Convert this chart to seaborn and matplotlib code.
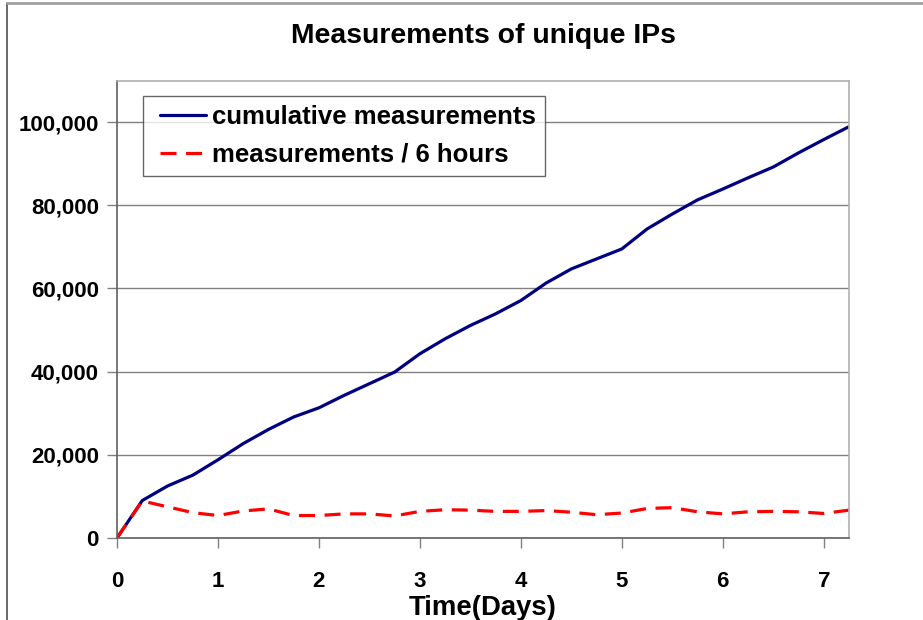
import matplotlib
matplotlib.use("Agg")
import matplotlib.pyplot as plt
import seaborn as sns
import pandas as pd
import numpy as np
from matplotlib.lines import Line2D

days = [0, 0.25, 0.5, 0.75, 1.0, 1.25, 1.5, 1.75, 2.0, 2.25, 2.5, 2.75, 3.0, 3.25, 3.5,
        3.75, 4.0, 4.25, 4.5, 4.75, 5.0, 5.25, 5.5, 5.75, 6.0, 6.25, 6.5, 6.75, 7.0, 7.25]
cumulative = [0, 9000, 12500, 15100, 18800, 22700, 26100, 29100, 31300, 34300, 37100, 39900,
              44300, 47900, 51100, 53900, 57100, 61300, 64700, 67100, 69500, 74300, 77900,
              81300, 83900, 86600, 89200, 92600, 95800, 98900]
per_6_hours = [0, 8900, 7500, 6100, 5400, 6500, 7000, 5400, 5400, 5800, 5800, 5300, 6400, 6800,
               6700, 6400, 6400, 6600, 6200, 5600, 6000, 7100, 7300, 6300, 5800, 6300, 6400,
               6300, 5900, 6700]
series_names = ["cumulative measurements", "measurements / 6 hours"]
y_ticks = [0, 20000, 40000, 60000, 80000, 100000]
x_ticks = [0, 1, 2, 3, 4, 5, 6, 7]

df = pd.DataFrame({"days": days * 2,
                   "value": cumulative + per_6_hours,
                   "series": [series_names[0]] * len(days) + [series_names[1]] * len(days)})

sns.set_style("white")
plt.rcParams['font.family'] = ['Liberation Sans', 'DejaVu Sans']
plt.rcParams['font.weight'] = 'bold'
plt.rcParams['text.color'] = 'black'
plt.rcParams['xtick.color'] = 'black'
plt.rcParams['ytick.color'] = 'black'
plt.rcParams['axes.labelcolor'] = 'black'

fig = plt.figure(figsize=(9.23, 6.2), dpi=100)
ax = fig.add_axes([117 / 923, 82 / 620, 732 / 923, 457.5 / 620])

# figure frame: left and top edges visible
fig.add_artist(Line2D([7.5 / 923, 7.5 / 923], [0, 617.5 / 620], transform=fig.transFigure,
                      color='#505050', linewidth=1.2))
fig.add_artist(Line2D([7.5 / 923, 1], [617.5 / 620, 617.5 / 620], transform=fig.transFigure,
                      color='#a0a0a0', linewidth=2.0))

sns.lineplot(data=df, x="days", y="value", hue="series", style="series",
             palette={series_names[0]: '#000080', series_names[1]: '#ff0000'},
             dashes={series_names[0]: "", series_names[1]: (5, 3)},
             linewidth=2.3, ax=ax, legend=True)

ax.set_xlim(0, 7.25)
ax.set_ylim(0, 110000)
ax.set_xticks(x_ticks)
ax.set_yticks(y_ticks)
ax.set_xticklabels([str(t) for t in x_ticks], fontsize=16, fontweight='bold')
ax.set_yticklabels([f"{t:,}" for t in y_ticks], fontsize=16, fontweight='bold')
ax.tick_params(axis='both', direction='out', length=7, width=1, color='#808080',
               labelcolor='black', bottom=True, left=True, pad=6)
ax.tick_params(axis='x', pad=17)
ax.yaxis.grid(True, color='#808080', linewidth=1)
ax.xaxis.grid(False)
ax.set_axisbelow(True)

for side in ['left', 'bottom']:
    ax.spines[side].set_color('#606060')
    ax.spines[side].set_linewidth(1.2)
for side in ['top', 'right']:
    ax.spines[side].set_color('#b0b0b0')
    ax.spines[side].set_linewidth(1.2)
    ax.spines[side].set_visible(True)

ax.set_xlabel("Time(Days)", fontsize=19.8, fontweight='bold', labelpad=2, color='black')
ax.set_ylabel("")
ax.set_title("Measurements of unique IPs", fontsize=20.4, fontweight='bold', pad=27,
             color='black')

handles, labels = ax.get_legend_handles_labels()
leg = ax.legend(handles, labels, loc='upper left', bbox_to_anchor=(0.0355, 0.967),
                borderaxespad=0, frameon=True, fancybox=False, fontsize=18.5,
                handlelength=2.09, handletextpad=0.23, labelspacing=0.53, borderpad=0.37)
leg.get_frame().set_edgecolor('#404040')
leg.get_frame().set_linewidth(1.0)
for t in leg.get_texts():
    t.set_fontweight('bold')
    t.set_color('black')
for ln in leg.get_lines():
    xd = np.asarray(ln.get_xdata(), dtype=float)
    if len(xd) >= 2:
        ln.set_xdata(np.linspace(xd[0] + 5.3, xd[-1], len(xd)))

fig.savefig("out.png", dpi=100)
